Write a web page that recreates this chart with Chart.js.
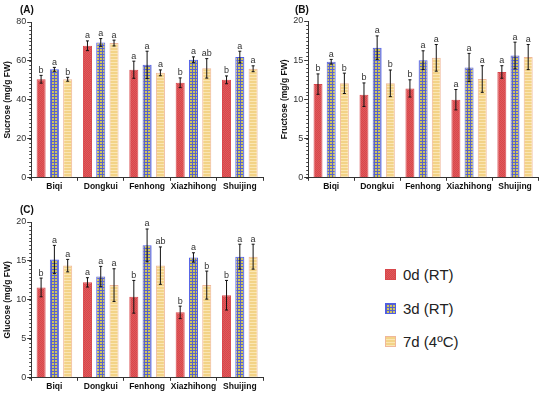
<!DOCTYPE html>
<html>
<head>
<meta charset="utf-8">
<script src="https://cdn.jsdelivr.net/npm/chart.js@4"></script>
<style>
  body { margin: 0; background: #fff; width: 550px; height: 395px; position: relative; overflow: hidden; font-family: Arial, "Liberation Sans", sans-serif; }
  canvas { position: absolute; }
  .legend { position: absolute; left: 385px; font-size: 15px; color: #222; display: flex; align-items: center; }
  .legend span.sw { width: 11px; height: 11px; display: inline-block; margin-right: 7px; box-sizing: border-box; }
</style>
</head>
<body>
<canvas id="chartA" width="275" height="197" style="left:0;top:0"></canvas>
<canvas id="chartB" width="275" height="197" style="left:275px;top:0"></canvas>
<canvas id="chartC" width="275" height="198" style="left:0;top:197px"></canvas>

<div class="legend" style="top:266px"><span class="sw" id="sw0"></span>0d (RT)</div>
<div class="legend" style="top:300px"><span class="sw" id="sw1"></span>3d (RT)</div>
<div class="legend" style="top:333px"><span class="sw" id="sw2"></span>7d (4ºC)</div>

<script>
const cultivars = ['Biqi', 'Dongkui', 'Fenhong', 'Xiazhihong', 'Shuijing']
const treatments = ['0d (RT)', '3d (RT)', '7d (4ºC)']

// sucrose (A)
const sucrose_0d = [50.6, 67.8, 55.5, 48.8, 50.3]
const sucrose_3d = [55.7, 69.5, 58.0, 60.6, 62.0]
const sucrose_7d = [50.6, 69.2, 53.9, 56.2, 56.0]
const sucrose_0d_err = [2.0, 2.5, 4.4, 2.5, 2.0]
const sucrose_3d_err = [1.0, 2.0, 7.0, 1.5, 3.0]
const sucrose_7d_err = [1.0, 1.5, 1.5, 5.0, 1.5]
const sucrose_letters = [['b', 'a', 'a', 'b', 'b'], ['a', 'a', 'a', 'a', 'a'], ['b', 'a', 'a', 'ab', 'a']]

// fructose (B)
const fructose_0d = [11.95, 10.6, 11.4, 9.96, 13.5]
const fructose_3d = [14.8, 16.6, 15.0, 14.07, 15.6]
const fructose_7d = [12.05, 12.05, 15.3, 12.6, 15.4]
const fructose_0d_err = [1.3, 1.5, 1.1, 1.3, 0.8]
const fructose_3d_err = [0.3, 1.5, 1.2, 1.8, 1.7]
const fructose_7d_err = [1.3, 1.7, 1.7, 1.7, 1.6]
const fructose_letters = [['b', 'b', 'b', 'a', 'a'], ['a', 'a', 'a', 'a', 'a'], ['b', 'b', 'a', 'a', 'a']]

// glucose (C)
const glucose_0d = [11.6, 12.25, 10.4, 8.4, 10.6]
const glucose_3d = [15.2, 13.0, 17.0, 15.45, 15.55]
const glucose_7d = [14.4, 11.9, 14.4, 11.9, 15.55]
const glucose_0d_err = [1.2, 0.6, 2.1, 0.8, 1.9]
const glucose_3d_err = [1.8, 1.3, 2.1, 0.6, 1.6]
const glucose_7d_err = [0.8, 2.1, 2.4, 1.8, 1.6]
const glucose_letters = [['b', 'a', 'b', 'b', 'b'], ['a', 'a', 'a', 'a', 'a'], ['a', 'a', 'ab', 'b', 'a']]

function make_pattern(w, h, draw) {
    const c = document.createElement('canvas')
    c.width = w
    c.height = h
    draw(c.getContext('2d'))
    return c
}

const red_tile = make_pattern(2, 2, ctx => {
    ctx.fillStyle = '#d8474b'; ctx.fillRect(0, 0, 2, 2)
    ctx.fillStyle = '#e05a5c'; ctx.fillRect(0, 0, 1, 1); ctx.fillRect(1, 1, 1, 1)
})
// yellow cells on a fine blue grid
const blue_tile = make_pattern(3, 3, ctx => {
    ctx.fillStyle = '#d2c65a'; ctx.fillRect(0, 0, 3, 3)
    ctx.fillStyle = '#5862cc'; ctx.fillRect(0, 0, 3, 1); ctx.fillRect(0, 0, 1, 3)
})
const yellow_tile = make_pattern(1, 3, ctx => {
    ctx.fillStyle = '#f3d387'; ctx.fillRect(0, 0, 1, 3)
    ctx.fillStyle = '#fae6b3'; ctx.fillRect(0, 2, 1, 1)
})

const tmp_ctx = document.createElement('canvas').getContext('2d')
const fills = [red_tile, blue_tile, yellow_tile].map(t => tmp_ctx.createPattern(t, 'repeat'))
const borders = ['#d8474b', '#4f5de6', '#f0b79a']

// legend swatches
;[red_tile, blue_tile, yellow_tile].forEach((t, i) => {
    const sw = document.getElementById('sw' + i)
    sw.style.backgroundImage = `url(${t.toDataURL()})`
    sw.style.border = `1px solid ${borders[i]}`
})

const error_bars = {
    id: 'error_bars',
    afterDatasetsDraw(chart, args, opts) {
        const ctx = chart.ctx
        const y = chart.scales.y
        ctx.save()
        chart.data.datasets.forEach((ds, i) => {
            const meta = chart.getDatasetMeta(i)
            meta.data.forEach((bar, j) => {
                const v = ds.data[j], e = ds.errors[j]
                const top = y.getPixelForValue(v + e)
                const bot = y.getPixelForValue(v - e)
                ctx.strokeStyle = '#111'
                ctx.lineWidth = 1
                ctx.beginPath()
                ctx.moveTo(bar.x, top); ctx.lineTo(bar.x, bot)
                ctx.moveTo(bar.x - 1.5, top); ctx.lineTo(bar.x + 1.5, top)
                ctx.moveTo(bar.x - 1.5, bot); ctx.lineTo(bar.x + 1.5, bot)
                ctx.stroke()
                ctx.fillStyle = '#333'
                ctx.font = '9px Arial'
                ctx.textAlign = 'center'
                ctx.textBaseline = 'bottom'
                ctx.fillText(ds.letters[j], bar.x, top - 0.5)
            })
        })
        // panel tag
        ctx.fillStyle = '#111'
        ctx.font = 'bold 10px Arial'
        ctx.textAlign = 'left'
        ctx.textBaseline = 'middle'
        ctx.fillText(opts.tag, opts.tag_x, opts.tag_y)
        // minor ticks on y axis
        const minor = opts.minor
        ctx.strokeStyle = '#444'
        ctx.beginPath()
        for (let v = y.min; v <= y.max + 1e-6; v += minor) {
            const py = Math.round(y.getPixelForValue(v)) + 0.5
            ctx.moveTo(y.right - 2, py); ctx.lineTo(y.right, py)
        }
        ctx.stroke()
        ctx.restore()
    }
}

function build_chart(id, values, errors, letters, max, step, minor, title, tag, tag_y, padding) {
    new Chart(document.getElementById(id), {
        type: 'bar',
        data: {
            labels: cultivars,
            datasets: treatments.map((t, i) => ({
                label: t,
                data: values[i],
                errors: errors[i],
                letters: letters[i],
                backgroundColor: fills[i],
                borderColor: borders[i],
                borderWidth: 1,
                barPercentage: 0.68,
                categoryPercentage: 0.86,
            }))
        },
        options: {
            responsive: false,
            animation: false,
            layout: { padding },
            plugins: {
                legend: { display: false },
                tooltip: { enabled: false },
                error_bars: { tag, tag_x: 20, tag_y, minor },
            },
            scales: {
                x: {
                    grid: { drawOnChartArea: false, drawTicks: true, tickLength: 3, color: '#333' },
                    border: { color: '#333' },
                    ticks: { color: '#111', font: { family: 'Arial', size: 8.5, weight: 'bold' }, padding: 1, maxRotation: 0, minRotation: 0, autoSkip: false },
                },
                y: {
                    min: 0,
                    max,
                    ticks: { stepSize: step, color: '#333', font: { family: 'Arial', size: 9 }, padding: 1 },
                    grid: { drawOnChartArea: false, drawTicks: true, tickLength: 4, color: '#333' },
                    border: { color: '#333' },
                    title: { display: true, text: title, color: '#111', font: { family: 'Arial', size: 8.5, weight: 'bold' }, padding: 2 },
                }
            }
        },
        plugins: [error_bars]
    })
}

build_chart('chartA',
    [sucrose_0d, sucrose_3d, sucrose_7d],
    [sucrose_0d_err, sucrose_3d_err, sucrose_7d_err],
    sucrose_letters, 80, 20, 2, 'Sucrose (mg/g FW)', '(A)', 10, { top: 22, right: 12, left: 1, bottom: 4 })
build_chart('chartB',
    [fructose_0d, fructose_3d, fructose_7d],
    [fructose_0d_err, fructose_3d_err, fructose_7d_err],
    fructose_letters, 20, 5, 0.5, 'Fructose (mg/g FW)', '(B)', 10, { top: 21, right: 12, left: 3, bottom: 4 })
build_chart('chartC',
    [glucose_0d, glucose_3d, glucose_7d],
    [glucose_0d_err, glucose_3d_err, glucose_7d_err],
    glucose_letters, 20, 5, 0.5, 'Glucose (mg/g FW)', '(C)', 13, { top: 25, right: 12, left: 1, bottom: 2 })
</script>
</body>
</html>
